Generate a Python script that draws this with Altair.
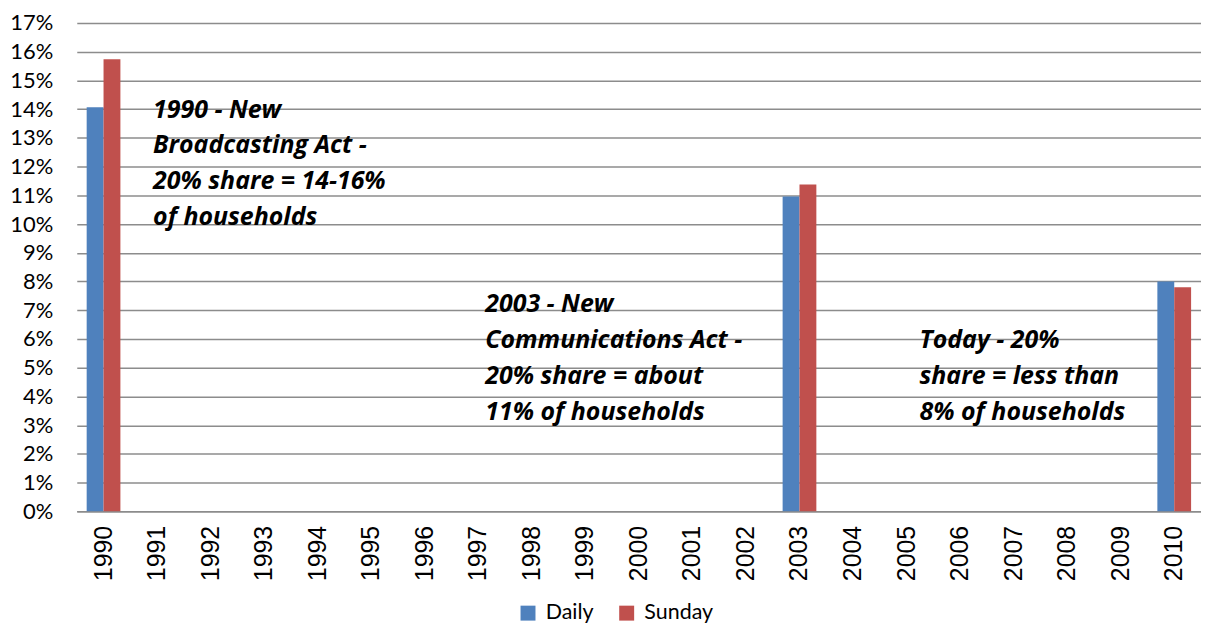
import altair as alt
import pandas as pd

years = [str(y) for y in range(1990, 2011)]
bar_years = ["1990", "2003", "2010"]
daily = [0.1407, 0.1096, 0.0800]
sunday = [0.1574, 0.1138, 0.0780]
series = ["Daily", "Sunday"]
colors = ["#4F81BD", "#C0504D"]
y_ticks = [i / 100 for i in range(18)]

ann1 = ["1990 - New", "Broadcasting Act -", "20% share = 14-16%", "of households"]
ann2 = ["2003 - New", "Communications Act -", "20% share = about", "11% of households"]
ann3 = ["Today - 20%", "share = less than", "8% of households"]

rows = []
for yr, d, s in zip(bar_years, daily, sunday):
    rows.append({"year": yr, "series": "Daily", "value": d})
    rows.append({"year": yr, "series": "Sunday", "value": s})
df = pd.DataFrame(rows)

grid_color = "#8c8c8c"

x_scale = alt.Scale(domain=years, paddingInner=0.37, paddingOuter=0.185)
x_axis = alt.Axis(title=None, labelAngle=270, labelFont="Liberation Sans", labelFontSize=25,
                  labelColor="black", labelPadding=14, ticks=False, domainColor=grid_color,
                  domainWidth=1.5, grid=False, labelOverlap=False)
y_scale = alt.Scale(domain=[0, 0.17], nice=False)
y_axis = alt.Axis(title=None, values=y_ticks, format=".0%", labelFont="Lato", labelFontSize=22,
                  labelColor="black", labelPadding=24, ticks=False, domain=False,
                  labelOverlap=False, labelBound=False, labelFlush=False,
                  grid=True, gridColor=grid_color, gridWidth=1.5)

bars = alt.Chart(df).mark_bar().encode(
    x=alt.X("year:N", scale=x_scale, axis=x_axis),
    xOffset=alt.XOffset("series:N", scale=alt.Scale(domain=series)),
    y=alt.Y("value:Q", scale=y_scale, axis=y_axis),
    color=alt.Color("series:N", scale=alt.Scale(domain=series, range=colors),
                    legend=alt.Legend(title=None, orient="none", legendX=442, legendY=581,
                                      direction="horizontal", symbolType="square", symbolSize=225,
                                      symbolStrokeWidth=0, labelFont="Lato", labelFontSize=21.5,
                                      labelColor="black", labelOffset=7, columnPadding=22, padding=0)),
)

def ann(lines, yr, yv, dx):
    return alt.Chart().mark_text(
        text=lines, align="left", baseline="top", font="Open Sans", fontSize=25,
        fontWeight="bold", fontStyle="italic", lineHeight=36, dx=dx, color="black"
    ).encode(x=alt.XDatum(yr, type="nominal", scale=x_scale, axis=x_axis),
             y=alt.YDatum(yv, type="quantitative", scale=y_scale, axis=y_axis))

chart = alt.layer(
    bars,
    ann(ann1, "1991", 0.1440, -4),
    ann(ann2, "1997", 0.0762, 7),
    ann(ann3, "2005", 0.0637, 13),
).properties(
    width=1128, height=490,
    autosize=alt.AutoSizeParams(type="none"),
    padding={"left": 69, "top": 14, "right": 0, "bottom": 115},
).configure_view(stroke=None)

chart.save("out.html", embed_options={"renderer": "svg", "actions": False})
